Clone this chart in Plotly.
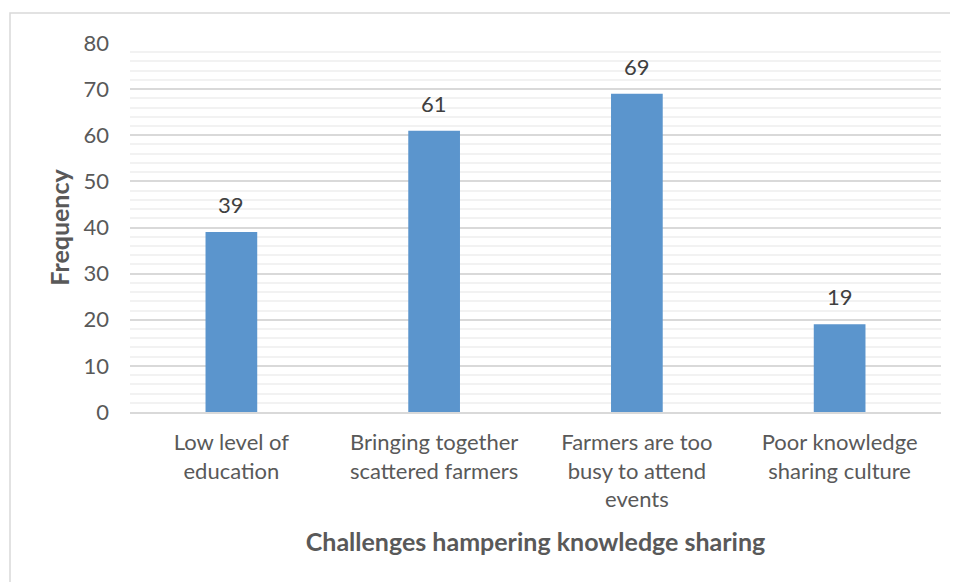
import plotly.graph_objects as go

categories = ["Low level of<br>education", "Bringing together<br>scattered farmers",
              "Farmers are too<br>busy to attend<br>events", "Poor knowledge<br>sharing culture"]
values = [39, 61, 69, 19]
y_ticks = [0, 10, 20, 30, 40, 50, 60, 70, 80]

font_family = "Lato, Open Sans, sans-serif"

# page body has an 8px margin; figure is sized to fill the rest of the window
W, H = 950, 574
L, R, T, B = 122, 17, 35, 170
pw, ph = W - L - R, H - T - B

fig = go.Figure(go.Bar(
    x=categories, y=values, width=0.255,
    marker=dict(color="#5b95cd", line=dict(width=0)),
))

for c, v in zip(categories, values):
    fig.add_annotation(x=c, y=v, text=str(v), showarrow=False, yanchor="bottom",
                       yshift=12, font=dict(size=22, color="#404040", family=font_family))

fig.update_layout(
    width=W, height=H,
    margin=dict(l=L, r=R, t=T, b=B),
    paper_bgcolor="white", plot_bgcolor="white",
    showlegend=False,
    font=dict(family=font_family, color="#595959", size=22),
    xaxis=dict(
        showgrid=False, showline=True, linecolor="#d9d9d9", linewidth=1.5,
        tickfont=dict(size=22, color="#595959"), ticks="", ticklabelstandoff=10,
        title=dict(text="<b>Challenges hampering knowledge sharing</b>",
                   font=dict(size=25, color="#595959"), standoff=22),
    ),
    yaxis=dict(
        range=[0, 80], tickvals=y_ticks, ticks="",
        showgrid=True, gridcolor="#d9d9d9", gridwidth=1.5,
        minor=dict(dtick=2, showgrid=True, gridcolor="#f2f2f2", gridwidth=1.5),
        zeroline=False, showline=False,
        tickfont=dict(size=22, color="#595959"), ticklabelstandoff=20,
        title=dict(text="<b>Frequency</b>", font=dict(size=25, color="#595959"), standoff=6),
    ),
    shapes=[dict(type="rect", xref="paper", yref="paper",
                 x0=(2 - L) / pw, x1=1.2, y0=-0.6, y1=(ph + T - 5) / ph,
                 line=dict(color="#d9d9d9", width=1.5), fillcolor="rgba(0,0,0,0)", layer="below")],
)

fig.write_html("out.html")
